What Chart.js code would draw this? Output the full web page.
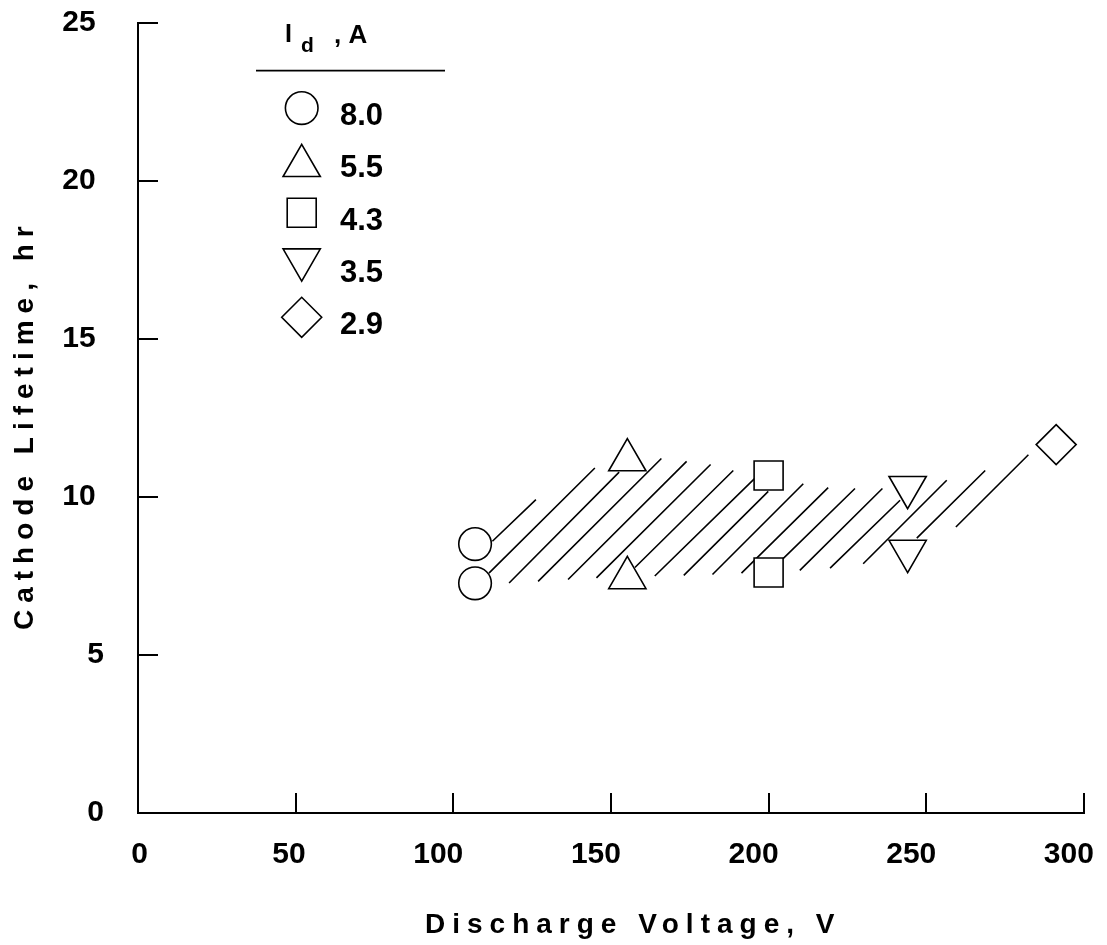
<!DOCTYPE html>
<html>
<head>
<meta charset="utf-8">
<title>Cathode Lifetime vs Discharge Voltage</title>
<script src="https://cdn.jsdelivr.net/npm/chart.js@4.4.1/dist/chart.umd.min.js"></script>
<style>
  html, body { margin: 0; padding: 0; background: #fff; }
  canvas { display: block; }
</style>
</head>
<body>
<canvas id="vida-catodo" width="1107" height="945"></canvas>
<script>
// Discharge current of each run (A), used for the legend
var correntes = ['8.0', '5.5', '4.3', '3.5', '2.9'];

// Measured points: discharge voltage (V) and cathode lifetime (hr)
var tensao80 = [106.9, 106.9];
var vida80 = [8.51, 7.27];
var tensao55 = [155.2, 155.2];
var vida55 = [11.17, 7.44];
var tensao43 = [200.0, 200.0];
var vida43 = [10.68, 7.61];
var tensao35 = [244.1, 244.1];
var vida35 = [10.31, 8.29];
var tensao29 = [291.2];
var vida29 = [11.66];

// Hatched band: each stroke goes from (V1, T1) up to (V2, T2)
var hachuraV1 = [112.4, 111.3, 117.7, 126.9, 136.4, 145.4, 157.6, 163.9, 173.1, 182.2, 191.4, 204.6, 209.9, 219.5, 230.0, 247.0, 259.4];
var hachuraT1 = [8.60, 7.59, 7.28, 7.33, 7.39, 7.44, 7.77, 7.50, 7.52, 7.55, 7.59, 8.05, 7.68, 7.75, 7.89, 8.70, 9.05];
var hachuraV2 = [126.2, 144.9, 152.6, 166.0, 174.0, 181.6, 188.8, 195.7, 199.9, 211.0, 218.9, 227.4, 236.1, 241.7, 256.5, 268.7, 282.4];
var hachuraT2 = [9.92, 10.92, 10.79, 11.22, 11.13, 11.03, 10.84, 10.60, 10.18, 10.42, 10.30, 10.27, 10.27, 9.90, 10.53, 10.84, 11.34];

// Axis ticks
var ticksTensao = [0, 50, 100, 150, 200, 250, 300];
var ticksVida = [0, 5, 10, 15, 20, 25];

var FONTE = '"Liberation Sans", Arial, Helvetica, sans-serif';

// Junta os pares x/y de uma série
function pontos(xs, ys) {
    return xs.map(function(x, i) {
        return { x: x, y: ys[i] };
    });
}

// Cada traço da hachura vira um segmento, separado por um ponto nulo
var segmentos = [];
for (var i = 0; i < hachuraV1.length; i++) {
    segmentos.push({ x: hachuraV1[i], y: hachuraT1[i] });
    segmentos.push({ x: hachuraV2[i], y: hachuraT2[i] });
    segmentos.push({ x: hachuraV2[i], y: null });
}

// Uma série de marcadores por corrente
function serie(label, xs, ys, estilo, raio, rotacao) {
    return {
        label: label,
        legenda: true,
        data: pontos(xs, ys),
        pointStyle: estilo,
        pointRadius: raio,
        pointRotation: rotacao,
        backgroundColor: '#ffffff',
        borderColor: '#000000',
        borderWidth: 1.6,
        showLine: false
    };
}

var datasets = [
    serie(correntes[0], tensao80, vida80, 'circle', 16.3, 0),
    serie(correntes[1], tensao55, vida55, 'triangle', 21.5, 0),
    serie(correntes[2], tensao43, vida43, 'rect', 20.5, 0),
    serie(correntes[3], tensao35, vida35, 'triangle', 21.5, 180),
    serie(correntes[4], tensao29, vida29, 'rectRot', 20, 0),
    {
        label: 'faixa',
        data: segmentos,
        showLine: true,
        spanGaps: false,
        borderColor: '#000000',
        borderWidth: 1.6,
        pointRadius: 0,
        fill: false
    }
];

// Títulos dos eixos com letras espaçadas
var titulosEixos = {
    id: 'titulosEixos',
    afterDraw: function(chart) {
        var ctx = chart.ctx;
        var area = chart.chartArea;
        ctx.save();
        ctx.fillStyle = '#000';
        ctx.font = 'bold 28px ' + FONTE;
        ctx.textAlign = 'left';
        ctx.textBaseline = 'alphabetic';
        if ('letterSpacing' in ctx) ctx.letterSpacing = '7px';
        ctx.fillText('Discharge Voltage, V', area.left + 287, area.bottom + 120);
        ctx.translate(area.left - 105, area.bottom - 183);
        ctx.rotate(-Math.PI / 2);
        ctx.fillText('Cathode Lifetime, hr', 0, 0);
        ctx.restore();
    }
};

// Legenda com cabeçalho "Id ,A" e os marcadores de cada corrente
var legendaCorrentes = {
    id: 'legendaCorrentes',
    afterDraw: function(chart) {
        var ctx = chart.ctx;
        var area = chart.chartArea;
        var xMarca = area.left + 163.7;
        ctx.save();
        ctx.fillStyle = '#000';
        ctx.strokeStyle = '#000';
        ctx.textAlign = 'left';
        ctx.textBaseline = 'alphabetic';

        ctx.font = 'bold 25px ' + FONTE;
        ctx.fillText('I', area.left + 147, area.top + 19);
        ctx.font = 'bold 21px ' + FONTE;
        ctx.fillText('d', area.left + 163, area.top + 29);
        ctx.font = 'bold 26px ' + FONTE;
        ctx.fillText(', A', area.left + 196, area.top + 20);

        ctx.lineWidth = 1.6;
        ctx.beginPath();
        ctx.moveTo(area.left + 118, area.top + 47.5);
        ctx.lineTo(area.left + 307, area.top + 47.5);
        ctx.stroke();

        ctx.font = 'bold 31px ' + FONTE;
        chart.data.datasets.forEach(function(ds, i) {
            if (!ds.legenda) return;
            var y = area.top + 85 + i * 52.3;
            var r = ds.pointRadius;
            // centraliza o triângulo pela sua caixa
            var ajuste = 0;
            if (ds.pointStyle === 'triangle') ajuste = ds.pointRotation ? -r / 4 : r / 4;
            ctx.fillStyle = '#fff';
            ctx.lineWidth = ds.borderWidth;
            Chart.helpers.drawPoint(ctx, {
                pointStyle: ds.pointStyle,
                radius: r,
                rotation: ds.pointRotation,
                borderWidth: ds.borderWidth
            }, xMarca, y + ajuste);
            ctx.fillStyle = '#000';
            ctx.fillText(ds.label, area.left + 202, y + 17);
        });
        ctx.restore();
    }
};

// Tamanho fixo dos eixos, sem a folga que o Chart.js reserva para os rótulos
function eixoFixo(largura, altura) {
    return function(scale) {
        if (largura) scale.width = largura;
        if (altura) scale.height = altura;
        scale.paddingTop = 0;
        scale.paddingBottom = 0;
        scale.paddingLeft = 0;
        scale.paddingRight = 0;
    };
}

var ctx = document.getElementById('vida-catodo').getContext('2d');

var grafico = new Chart(ctx, {
    type: 'scatter',
    data: { datasets: datasets },
    plugins: [titulosEixos, legendaCorrentes],
    options: {
        responsive: false,
        animation: false,
        events: [],
        layout: { padding: { top: 21, right: 23, left: 0, bottom: 0 } },
        plugins: {
            legend: { display: false },
            tooltip: { enabled: false }
        },
        elements: { line: { tension: 0 } },
        scales: {
            x: {
                type: 'linear',
                min: ticksTensao[0],
                max: ticksTensao[ticksTensao.length - 1],
                afterBuildTicks: function(scale) {
                    scale.ticks = ticksTensao.map(function(v) { return { value: v }; });
                },
                afterFit: eixoFixo(0, 132),
                border: { display: true, color: '#000', width: 2 },
                grid: {
                    drawOnChartArea: false,
                    drawTicks: true,
                    tickLength: -20,
                    color: '#000',
                    lineWidth: 2
                },
                ticks: {
                    align: 'end',
                    labelOffset: 10,
                    padding: 44,
                    color: '#000',
                    maxRotation: 0,
                    font: { family: FONTE, size: 30, weight: 'bold' }
                }
            },
            y: {
                type: 'linear',
                min: ticksVida[0],
                max: ticksVida[ticksVida.length - 1],
                afterBuildTicks: function(scale) {
                    scale.ticks = ticksVida.map(function(v) { return { value: v }; });
                },
                afterFit: eixoFixo(138, 0),
                border: { display: true, color: '#000', width: 2 },
                grid: {
                    drawOnChartArea: false,
                    drawTicks: true,
                    tickLength: -20,
                    color: '#000',
                    lineWidth: 2
                },
                ticks: {
                    padding: 54,
                    color: '#000',
                    font: { family: FONTE, size: 30, weight: 'bold' },
                    callback: function(valor) {
                        // rótulos de dois dígitos ficam um pouco mais à esquerda
                        return valor >= 10 ? valor + ' ' : String(valor);
                    }
                }
            }
        }
    }
});
</script>
</body>
</html>
